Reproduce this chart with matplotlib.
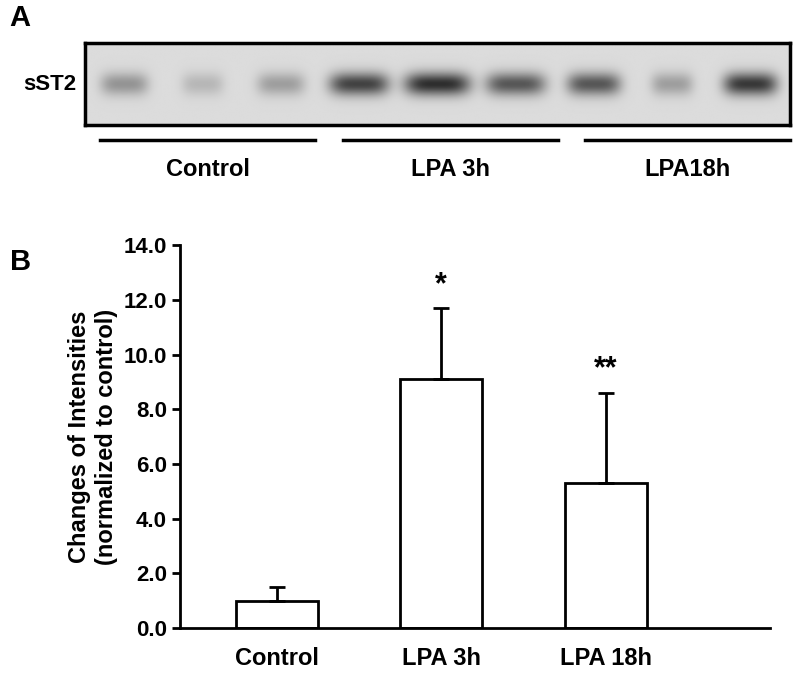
import numpy as np
import matplotlib
matplotlib.use("Agg")
from matplotlib import pyplot as plt

plt.rcParams["font.family"] = "Liberation Sans"
plt.rcParams["font.weight"] = "bold"

# blot lanes
lane_groups = ["Control", "LPA 3h", "LPA18h"]
band_intensity = [0.35, 0.18, 0.30, 0.75, 0.85, 0.65, 0.65, 0.30, 0.80]
band_width = [0.8, 0.7, 0.8, 1.0, 1.1, 1.0, 0.9, 0.7, 0.9]

# bar chart
categories = ["Control", "LPA 3h", "LPA 18h"]
means = [1.0, 9.1, 5.3]
errors = [0.5, 2.6, 3.3]
stars = ["", "*", "**"]

fig = plt.figure(figsize=(8, 6.81), dpi=100)

# panel A
axA = fig.add_axes([0.106, 0.8164, 0.881, 0.120])
n = len(band_intensity)
xs = np.linspace(0, n, 900)
ys = np.linspace(-1, 1, 120)
X, Y = np.meshgrid(xs, ys)
img = np.full(X.shape, 0.86)
for i, (a, w) in enumerate(zip(band_intensity, band_width)):
    c = i + 0.5
    prof = np.exp(-((X - c) / (0.38 * w)) ** 4) * np.exp(-(Y / 0.28) ** 2)
    img -= a * 0.8 * prof
axA.imshow(img, cmap="gray", vmin=0, vmax=1, aspect="auto", extent=[0, n, -1, 1])
for s in axA.spines.values():
    s.set_linewidth(2.5)
axA.set_xticks([])
axA.set_yticks([])
fig.text(0.095, 0.876, "sST2", ha="right", va="center", fontsize=16, fontweight="bold")
fig.text(0.012, 0.973, "A", fontsize=21, fontweight="bold", va="center")
group_spans = [(100, 315), (343, 558), (585, 790)]
for (x0, x1), lab in zip(group_spans, lane_groups):
    fig.add_artist(plt.Line2D([x0 / 800, x1 / 800], [1 - 140 / 681] * 2, color="black", lw=2.5))
    fig.text((x0 + x1) / 1600, 1 - 170 / 681, lab, ha="center", va="center", fontsize=17, fontweight="bold")

# panel B
ax = fig.add_axes([0.225, 0.078, 0.7375, 0.562])
pos = np.arange(len(categories))
ax.bar(pos, means, width=0.5, color="white", edgecolor="black", linewidth=2)
ax.errorbar(pos, means, yerr=[np.zeros(3), errors], fmt="none", ecolor="black",
            elinewidth=2, capsize=6, capthick=2)
for p, m, e, s in zip(pos, means, errors, stars):
    if s:
        ax.text(p, m + e + 0.3, s, ha="center", va="bottom", fontsize=22, fontweight="bold")
ax.set_xlim(-0.59, 3.0)
ax.set_ylim(0, 14)
ax.set_yticks(np.arange(0, 14.1, 2))
ax.set_yticklabels([f"{v:.1f}" for v in np.arange(0, 14.1, 2)], fontsize=16)
ax.set_xticks(pos)
ax.set_xticklabels(categories, fontsize=17)
ax.tick_params(axis="x", length=0, pad=14)
ax.tick_params(axis="y", direction="out", width=2, length=6)
ax.spines["top"].set_visible(False)
ax.spines["right"].set_visible(False)
ax.spines["left"].set_linewidth(2)
ax.spines["bottom"].set_linewidth(2)
ax.set_ylabel("Changes of Intensities\n(normalized to control)", fontsize=17, fontweight="bold")
fig.text(0.012, 0.615, "B", fontsize=21, fontweight="bold", va="center")

fig.savefig("out.png", dpi=100)
